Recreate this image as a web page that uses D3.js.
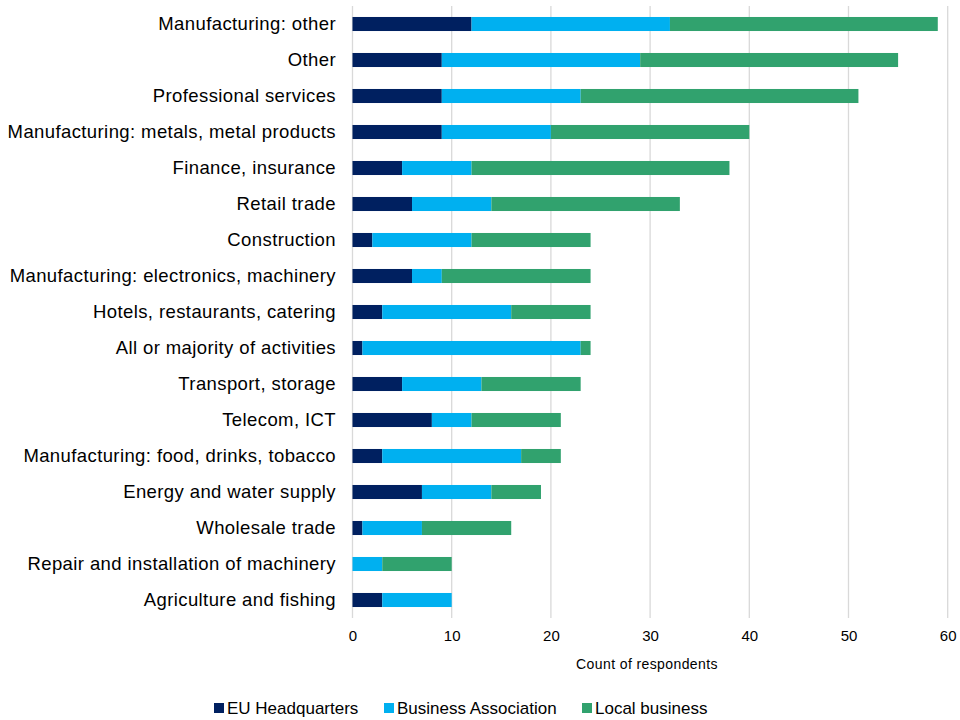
<!DOCTYPE html>
<html><head><meta charset="utf-8">
<script src="https://cdn.jsdelivr.net/npm/d3@7"></script>
<style>body{margin:0;background:#fff;} text{font-family:"Liberation Sans",Arial,sans-serif;fill:#000;}</style>
</head><body>
<svg id="chart" width="960" height="720"></svg>
<script>
const categories = ["Manufacturing: other","Other","Professional services","Manufacturing: metals, metal products","Finance, insurance","Retail trade","Construction","Manufacturing: electronics, machinery","Hotels, restaurants, catering","All or majority of activities","Transport, storage","Telecom, ICT","Manufacturing: food, drinks, tobacco","Energy and water supply","Wholesale trade","Repair and installation of machinery","Agriculture and fishing"];
const euHeadquarters = [12,9,9,9,5,6,2,6,3,1,5,8,3,7,1,0,3];
const businessAssociation = [20,20,14,11,7,8,10,3,13,22,8,4,14,7,6,3,7];
const localBusiness = [27,26,28,20,26,19,12,15,8,1,10,9,4,5,9,7,0];
const seriesNames = ["EU Headquarters","Business Association","Local business"];
const seriesColors = ["#002060","#00B0F0","#31A26E"];
const xTicks = [0,10,20,30,40,50,60];
const xTitle = "Count of respondents";

const svg = d3.select("#chart");
const x = d3.scaleLinear().domain([0,60]).range([352.5,947.7]);
const y = d3.scaleBand().domain(categories).range([6,618]).paddingInner(0.61).paddingOuter(0.305);

const rows = categories.map((c,i)=>({cat:c, s0:euHeadquarters[i], s1:businessAssociation[i], s2:localBusiness[i]}));
const stack = d3.stack().keys(["s0","s1","s2"])(rows);

// grid
svg.append("g").selectAll("line").data(xTicks).join("line")
  .attr("x1",d=>x(d)).attr("x2",d=>x(d)).attr("y1",6).attr("y2",618)
  .attr("stroke","#d9d9d9").attr("stroke-width",1.3);

// bars
svg.append("g").selectAll("g").data(stack).join("g")
  .attr("fill",(d,i)=>seriesColors[i])
  .selectAll("rect").data(d=>d).join("rect")
  .attr("x",d=>x(d[0])).attr("width",d=>Math.max(0,x(d[1])-x(d[0])))
  .attr("y",d=>y(d.data.cat)).attr("height",y.bandwidth());

// category labels
svg.append("g").selectAll("text").data(categories).join("text")
  .attr("x",336).attr("y",d=>y(d)+y.bandwidth()/2).attr("dy","0.35em")
  .attr("text-anchor","end").style("font-size","18.5px").style("letter-spacing","0.4px").text(d=>d);

// x tick labels
const xAxis = svg.append("g").attr("transform","translate(0,618)")
  .call(d3.axisBottom(x).tickValues(xTicks).tickSize(0).tickPadding(12));
xAxis.select(".domain").remove();
xAxis.selectAll("text").style("font-size","15px").style("font-family","'Liberation Sans',Arial,sans-serif").attr("fill","#000");

svg.append("text").attr("x",647).attr("y",669).attr("text-anchor","middle")
  .style("font-size","14px").style("letter-spacing","0.4px").text(xTitle);

// legend
const legendX = [214,384,582];
const lg = svg.append("g").selectAll("g").data(seriesNames).join("g")
  .attr("transform",(d,i)=>`translate(${legendX[i]},708)`);
lg.append("rect").attr("x",0).attr("y",-5).attr("width",10).attr("height",10).attr("fill",(d,i)=>seriesColors[i]);
lg.append("text").attr("x",13).attr("y",0).attr("dy","0.35em").style("font-size","17px").text(d=>d);
</script>
</body></html>
